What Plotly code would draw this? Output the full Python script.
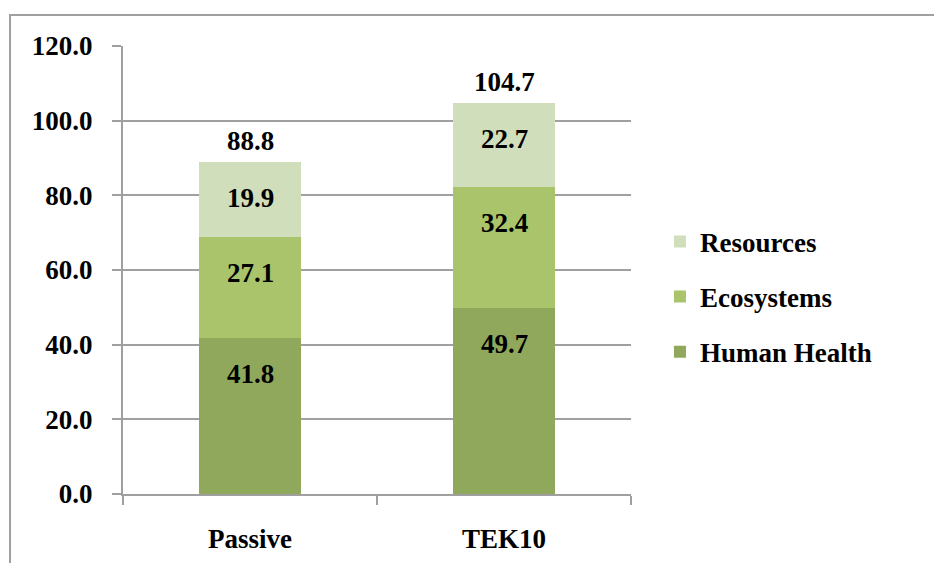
import plotly.graph_objects as go

# Stacked impact categories per scenario
scenarios = ["Passive", "TEK10"]
human_health = [41.8, 49.7]
ecosystems = [27.1, 32.4]
resources = [19.9, 22.7]
totals = [88.8, 104.7]

series_names = ["Human Health", "Ecosystems", "Resources"]
series_values = [human_health, ecosystems, resources]
series_colors = ["#8FA85B", "#A9C46B", "#D0DEBB"]

FONT = "Liberation Serif"
FSIZE = 27
fig = go.Figure()

n = len(series_names)
for k, (name, vals, color) in enumerate(zip(series_names, series_values, series_colors)):
    fig.add_trace(go.Bar(
        x=scenarios, y=vals, name=name, legendgroup=name,
        legendrank=n - k,  # top segment listed first
        marker=dict(color=color, line=dict(width=0)),
        width=0.4, hoverinfo="x+y+name",
    ))

annotations = []
# Segment labels sit a fixed distance below each segment's top edge
base = [0.0] * len(scenarios)
for vals in series_values:
    for i, v in enumerate(vals):
        top = base[i] + v
        annotations.append(dict(
            x=scenarios[i], y=top, xref="x", yref="y",
            text=f"{v:.1f}", showarrow=False, yanchor="middle", yshift=-36,
            font=dict(family=FONT, size=FSIZE, color="#000000", weight="bold"),
        ))
        base[i] = top

# Totals above each stack
for i, t in enumerate(totals):
    annotations.append(dict(
        x=scenarios[i], y=t, xref="x", yref="y",
        text=f"{t:.1f}", showarrow=False, yanchor="middle", yshift=21,
        font=dict(family=FONT, size=FSIZE, color="#000000", weight="bold"),
    ))

grid_col = "#A0A0A0"
fig.update_layout(
    width=934, height=563,
    margin=dict(l=123, r=303, t=46, b=69, autoexpand=False),
    paper_bgcolor="#FFFFFF", plot_bgcolor="#FFFFFF",
    barmode="stack", bargap=0.6,
    font=dict(family=FONT, size=FSIZE, color="#000000", weight="bold"),
    showlegend=True,
    legend=dict(
        x=1.057, y=0.44, xanchor="left", yanchor="middle",
        traceorder="grouped", tracegroupgap=17,
        font=dict(family=FONT, size=FSIZE, color="#000000", weight="bold"),
        bgcolor="rgba(0,0,0,0)",
    ),
    annotations=annotations,
    shapes=[dict(
        type="rect", xref="paper", yref="paper",
        x0=-0.2224, x1=1.62, y0=-0.2, y1=1.069,
        line=dict(color=grid_col, width=2), fillcolor="rgba(0,0,0,0)", layer="below",
    )],
)

fig.update_yaxes(
    range=[0, 120], dtick=20, tickformat=".1f",
    showgrid=True, gridcolor=grid_col, gridwidth=2,
    showline=True, linecolor=grid_col, linewidth=2,
    ticks="outside", ticklen=9, tickwidth=2, tickcolor=grid_col,
    ticklabelstandoff=14, zeroline=False,
    tickfont=dict(family=FONT, size=FSIZE, color="#000000", weight="bold"),
)
fig.update_xaxes(
    showline=True, linecolor=grid_col, linewidth=2,
    ticks="outside", ticklen=9, tickwidth=2, tickcolor=grid_col,
    tickson="boundaries", ticklabelstandoff=20,
    tickfont=dict(family=FONT, size=FSIZE, color="#000000", weight="bold"),
)

fig.write_html("out.html")
